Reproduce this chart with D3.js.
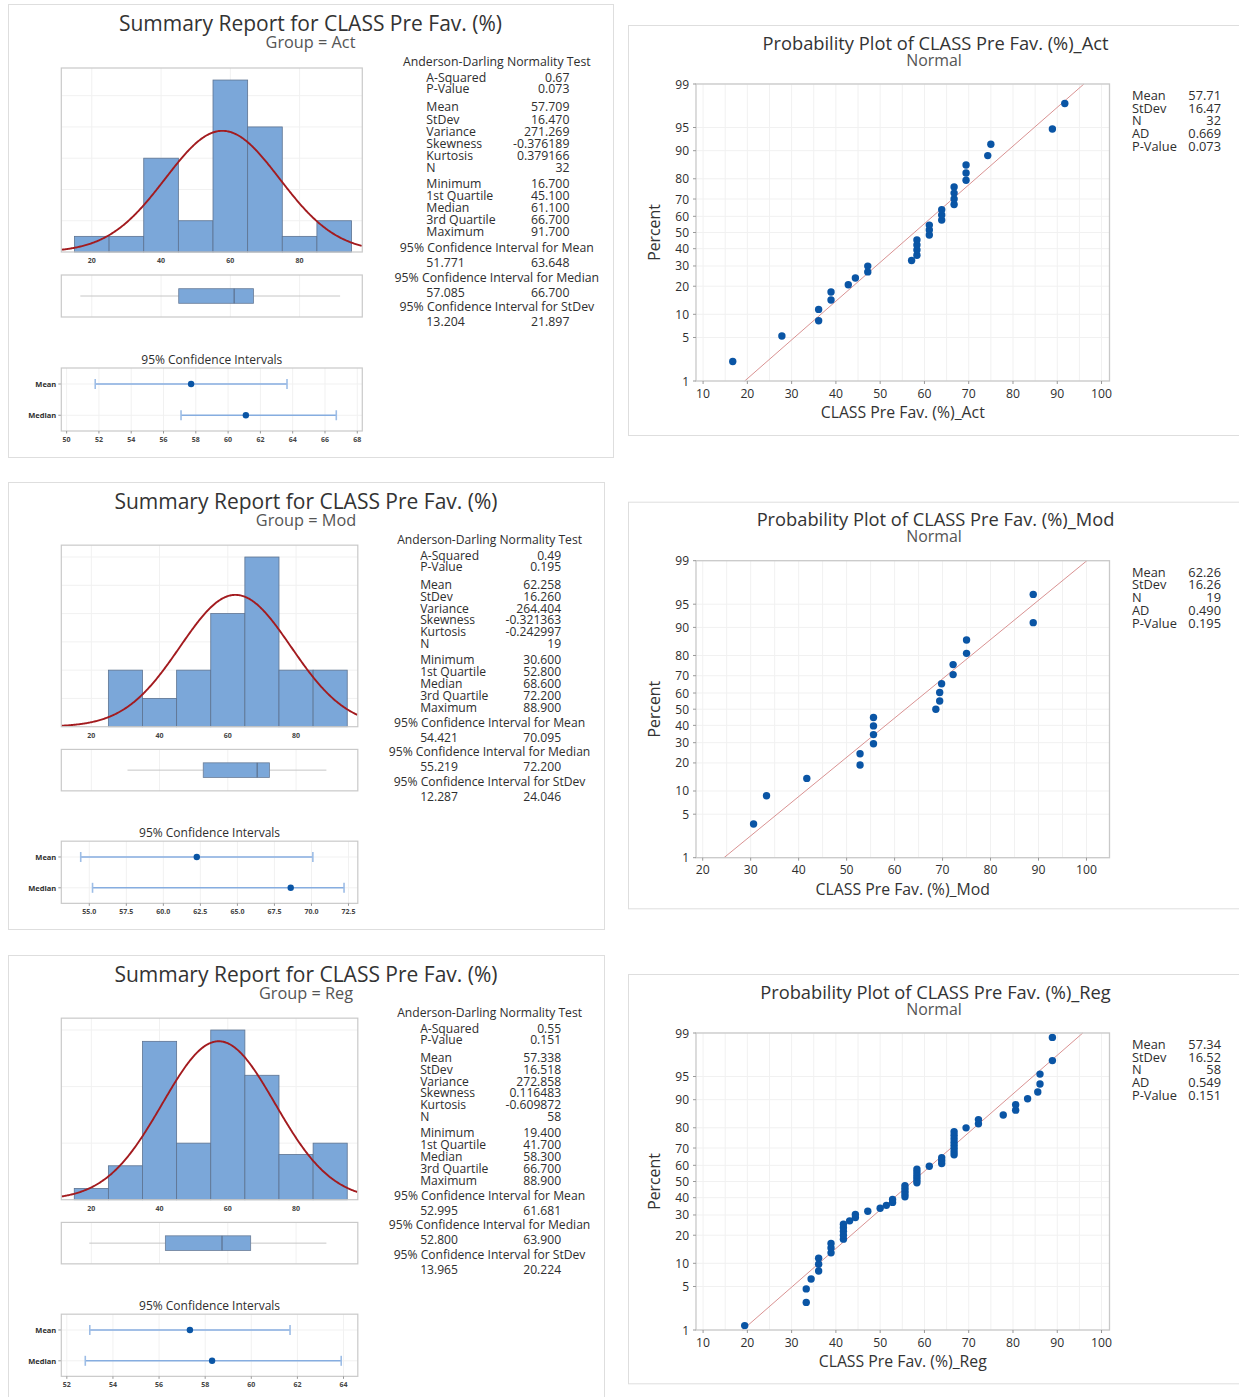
<!DOCTYPE html>
<html>
<head>
<meta charset="utf-8">
<script src="https://cdn.jsdelivr.net/npm/d3@7"></script>
<style>
  body { margin: 0; background: #fff; }
  svg { display: block; font-family: "Open Sans", "Noto Sans", sans-serif; }
</style>
</head>
<body>
<svg id="chart" width="1239" height="1397"></svg>
<script>
// ---------- data ----------
const groupNames = ["Act", "Mod", "Reg"];

const actScores = [16.7, 27.8, 36.1, 36.1, 38.9, 38.9, 42.8, 44.4, 47.2, 47.2, 57.1,
  58.3, 58.3, 58.3, 58.3, 61.1, 61.1, 61.1, 63.9, 63.9, 63.9, 66.7, 66.7, 66.7, 66.7,
  69.4, 69.4, 69.4, 74.3, 75.0, 88.9, 91.7];
const modScores = [30.6, 33.3, 41.7, 52.8, 52.8, 55.6, 55.6, 55.6, 55.6, 68.6, 69.4,
  69.4, 69.8, 72.2, 72.2, 75.0, 75.0, 88.9, 88.9];
const regScores = [19.4, 33.3, 33.3, 34.4, 36.1, 36.1, 36.1, 38.9, 38.9, 38.9,
  41.7, 41.7, 41.7, 41.7, 41.7, 43.1, 44.4, 44.4, 47.2, 50.0, 51.4, 52.8, 52.8,
  55.6, 55.6, 55.6, 55.6, 55.6, 58.3, 58.3, 58.3, 58.3, 58.3, 58.3, 61.1,
  63.9, 63.9, 63.9, 66.7, 66.7, 66.7, 66.7, 66.7, 66.7, 66.7, 66.7, 69.4,
  72.2, 72.2, 77.8, 80.6, 80.6, 83.3, 85.6, 86.1, 86.1, 88.9, 88.9];

// Anderson-Darling: [AD statistic, p-value]
const actADTest = [0.669, 0.073];
const modADTest = [0.490, 0.195];
const regADTest = [0.549, 0.151];

// Mean, StDev, Variance, Skewness, Kurtosis, N
const actMoments = [57.709, 16.470, 271.269, -0.376189, 0.379166, 32];
const modMoments = [62.258, 16.260, 264.404, -0.321363, -0.242997, 19];
const regMoments = [57.338, 16.518, 272.858, 0.116483, -0.609872, 58];

// Minimum, 1st Quartile, Median, 3rd Quartile, Maximum
const actQuantiles = [16.7, 45.1, 61.1, 66.7, 91.7];
const modQuantiles = [30.6, 52.8, 68.6, 72.2, 88.9];
const regQuantiles = [19.4, 41.7, 58.3, 66.7, 88.9];

// 95% confidence intervals
const actMeanCI = [51.771, 63.648], actMedianCI = [57.085, 66.700], actStDevCI = [13.204, 21.897];
const modMeanCI = [54.421, 70.095], modMedianCI = [55.219, 72.200], modStDevCI = [12.287, 24.046];
const regMeanCI = [52.995, 61.681], regMedianCI = [52.800, 63.900], regStDevCI = [13.965, 20.224];

// axis ranges and tick labels
const binEdges = [15, 25, 35, 45, 55, 65, 75, 85, 95];
const histRange = [11.2, 98.1];
const histTicks = [20, 40, 60, 80];
const actCiRange = [49.67, 68.31], actCiTicks = [50, 52, 54, 56, 58, 60, 62, 64, 66, 68];
const modCiRange = [53.11, 73.13], modCiTicks = [55, 57.5, 60, 62.5, 65, 67.5, 70, 72.5];
const regCiRange = [51.76, 64.62], regCiTicks = [52, 54, 56, 58, 60, 62, 64];
const actProbRange = [8.4, 101.8], actProbTicks = [10, 20, 30, 40, 50, 60, 70, 80, 90, 100];
const modProbRange = [18.6, 104.8], modProbTicks = [20, 30, 40, 50, 60, 70, 80, 90, 100];
const regProbRange = [8.4, 101.8], regProbTicks = [10, 20, 30, 40, 50, 60, 70, 80, 90, 100];
const percentTicks = [1, 5, 10, 20, 30, 40, 50, 60, 70, 80, 90, 95, 99];

// ---------- helpers ----------
function qnorm(p) {
  const a = [-3.969683028665376e+01, 2.209460984245205e+02, -2.759285104469687e+02, 1.383577518672690e+02, -3.066479806614716e+01, 2.506628277459239e+00];
  const b = [-5.447609879822406e+01, 1.615858368580409e+02, -1.556989798598866e+02, 6.680131188771972e+01, -1.328068155288572e+01];
  const c = [-7.784894002430293e-03, -3.223964580411365e-01, -2.400758277161838e+00, -2.549732539343734e+00, 4.374664141464968e+00, 2.938163982698783e+00];
  const d = [7.784695709041462e-03, 3.224671290700398e-01, 2.445134137142996e+00, 3.754408661907416e+00];
  const pl = 0.02425;
  let q, r;
  if (p < pl) {
    q = Math.sqrt(-2 * Math.log(p));
    return (((((c[0]*q+c[1])*q+c[2])*q+c[3])*q+c[4])*q+c[5]) / ((((d[0]*q+d[1])*q+d[2])*q+d[3])*q+1);
  }
  if (p > 1 - pl) {
    q = Math.sqrt(-2 * Math.log(1 - p));
    return -(((((c[0]*q+c[1])*q+c[2])*q+c[3])*q+c[4])*q+c[5]) / ((((d[0]*q+d[1])*q+d[2])*q+d[3])*q+1);
  }
  q = p - 0.5; r = q * q;
  return (((((a[0]*r+a[1])*r+a[2])*r+a[3])*r+a[4])*r+a[5])*q / (((((b[0]*r+b[1])*r+b[2])*r+b[3])*r+b[4])*r+1);
}
const dnorm = (x, m, s) => Math.exp(-0.5 * ((x - m) / s) ** 2) / (s * Math.sqrt(2 * Math.PI));

// number formatting with a plain hyphen-minus
const numLocale = d3.formatLocale({ decimal: ".", thousands: ",", grouping: [3], currency: ["", ""], minus: "-" });
const fmt = spec => numLocale.format(spec);

// baseline offset that vertically centres Open Sans text on a given y
const MID = 0.388;

// one <text> block made of positioned tspans: items = [{x, y, size, anchor, fill, text}]
function textBlock(parent, items, attrs = {}) {
  const t = parent.append("text");
  Object.entries(attrs).forEach(([k, v]) => t.attr(k, v));
  items.forEach(it => {
    const sp = t.append("tspan").attr("x", it.x).attr("y", it.y + MID * it.size)
      .attr("font-size", it.size).attr("text-anchor", it.anchor || "start").text(it.text);
    if (it.fill) sp.attr("fill", it.fill);
  });
  return t;
}

const groups = [
  { name: groupNames[0], scores: actScores, ad: actADTest, mom: actMoments, qs: actQuantiles,
    meanCI: actMeanCI, medCI: actMedianCI, sdCI: actStDevCI, ciRange: actCiRange, ciTicks: actCiTicks,
    probRange: actProbRange, probTicks: actProbTicks },
  { name: groupNames[1], scores: modScores, ad: modADTest, mom: modMoments, qs: modQuantiles,
    meanCI: modMeanCI, medCI: modMedianCI, sdCI: modStDevCI, ciRange: modCiRange, ciTicks: modCiTicks,
    probRange: modProbRange, probTicks: modProbTicks },
  { name: groupNames[2], scores: regScores, ad: regADTest, mom: regMoments, qs: regQuantiles,
    meanCI: regMeanCI, medCI: regMedianCI, sdCI: regStDevCI, ciRange: regCiRange, ciTicks: regCiTicks,
    probRange: regProbRange, probTicks: regProbTicks }
];

// panel placement
const summaryPanels = [
  { x: 8, y: 4, w: 605, h: 453, ts: 1 },
  { x: 8, y: 482, w: 596, h: 447, ts: 0.985 },
  { x: 8, y: 955, w: 596, h: 447, ts: 0.985 }
];
const probPanels = [
  { y: 25, h: 410 },
  { y: 501.7, h: 406.6 },
  { y: 974, h: 409.3 }
];

const svg = d3.select("#chart");
const BLUE = "#7ba7d9", DOT = "#0a55a5", FRAME = "#c9c9c9", GRID = "#f1f1f1", TXT = "#2e2e2e";

// ---------- summary report ----------
function drawSummary(P, G) {
  const s = svg.append("g").attr("transform", `translate(${P.x},${P.y})`);
  const k = P.h / 453;
  s.append("rect").attr("x", 0.5).attr("y", 0.5).attr("width", P.w).attr("height", P.h)
    .attr("fill", "#fff").attr("stroke", "#dedede");

  textBlock(s, [
    { x: P.w * 0.5, y: 19, size: 21, anchor: "middle", fill: "#333", text: "Summary Report for CLASS Pre Fav. (%)" },
    { x: P.w * 0.5, y: 37.5, size: 16.3, anchor: "middle", fill: "#555", text: `Group = ${G.name}` }
  ]);

  const fx0 = 53.3, fx1 = 53.3 + 0.4975 * P.w;
  const x = d3.scaleLinear().domain(histRange).range([fx0, fx1]);

  // histogram
  const hy0 = 64 * k, hy1 = 248 * k;
  const bins = d3.bin().domain([binEdges[0], binEdges[binEdges.length - 1]])
    .thresholds(binEdges.slice(1, -1))(G.scores);
  const maxCount = d3.max(bins, b => b.length);
  const y = d3.scaleLinear().domain([0, maxCount * 1.07]).range([hy1, hy0]);

  const hg = s.append("g");
  hg.selectAll("line.vg").data(histTicks).join("line")
    .attr("x1", d => x(d)).attr("x2", d => x(d)).attr("y1", hy0).attr("y2", hy1)
    .attr("stroke", GRID);
  hg.selectAll("line.hg").data(y.ticks(5).filter(t => t > 0)).join("line")
    .attr("x1", fx0).attr("x2", fx1).attr("y1", d => y(d)).attr("y2", d => y(d))
    .attr("stroke", GRID);
  hg.selectAll("rect.bar").data(bins.filter(b => b.length > 0)).join("rect")
    .attr("x", b => x(b.x0)).attr("width", b => x(b.x1) - x(b.x0))
    .attr("y", b => y(b.length)).attr("height", b => y(0) - y(b.length))
    .attr("fill", BLUE).attr("stroke", "#5d7391").attr("stroke-width", 0.8);

  const m = G.mom[0], sd = G.mom[1], n = G.mom[5];
  const bw = binEdges[1] - binEdges[0];
  const curvePts = d3.range(histRange[0], histRange[1] + 0.001, 0.25);
  hg.append("path").datum(curvePts)
    .attr("d", d3.line().x(v => x(v)).y(v => y(n * bw * dnorm(v, m, sd))))
    .attr("fill", "none").attr("stroke", "#a31b1f").attr("stroke-width", 1.9);
  hg.append("rect").attr("x", fx0).attr("y", hy0).attr("width", fx1 - fx0).attr("height", hy1 - hy0)
    .attr("fill", "none").attr("stroke", FRAME).attr("stroke-width", 1.2);
  hg.selectAll("text.xt").data(histTicks).join("text")
    .attr("x", d => x(d)).attr("y", hy1 + 8.5).attr("text-anchor", "middle")
    .attr("dominant-baseline", "central").attr("font-size", 7).attr("font-weight", "bold")
    .attr("fill", "#444").text(d => d);

  // boxplot
  const by0 = 271 * k, by1 = 313 * k, bc = (by0 + by1) / 2, bh = 7.3;
  const bg = s.append("g");
  bg.selectAll("line.vg").data(histTicks).join("line")
    .attr("x1", d => x(d)).attr("x2", d => x(d)).attr("y1", by0).attr("y2", by1).attr("stroke", GRID);
  const [qmin, q1, qmed, q3, qmax] = G.qs;
  bg.append("line").attr("x1", x(qmin)).attr("x2", x(q1)).attr("y1", bc).attr("y2", bc)
    .attr("stroke", "#c6c6c6");
  bg.append("line").attr("x1", x(q3)).attr("x2", x(qmax)).attr("y1", bc).attr("y2", bc)
    .attr("stroke", "#c6c6c6");
  bg.append("rect").attr("x", x(q1)).attr("width", x(q3) - x(q1)).attr("y", bc - bh).attr("height", 2 * bh)
    .attr("fill", BLUE).attr("stroke", "#6a7d98").attr("stroke-width", 0.8);
  bg.append("line").attr("x1", x(qmed)).attr("x2", x(qmed)).attr("y1", bc - bh).attr("y2", bc + bh)
    .attr("stroke", "#55657e").attr("stroke-width", 1);
  bg.append("rect").attr("x", fx0).attr("y", by0).attr("width", fx1 - fx0).attr("height", by1 - by0)
    .attr("fill", "none").attr("stroke", FRAME).attr("stroke-width", 1.2);

  // confidence intervals
  const cy0 = 364 * k, cy1 = 427 * k;
  const cx = d3.scaleLinear().domain(G.ciRange).range([fx0, fx1]);
  const cg = s.append("g");
  cg.append("text").attr("x", (fx0 + fx1) / 2).attr("y", 355 * k).attr("text-anchor", "middle")
    .attr("dominant-baseline", "central").attr("font-size", 12).attr("fill", TXT)
    .text("95% Confidence Intervals");
  cg.selectAll("line.vg").data(G.ciTicks).join("line")
    .attr("x1", d => cx(d)).attr("x2", d => cx(d)).attr("y1", cy0).attr("y2", cy1).attr("stroke", GRID);
  const rows = [
    { label: "Mean", ci: G.meanCI, est: G.mom[0], yy: cy0 + 0.254 * (cy1 - cy0) },
    { label: "Median", ci: G.medCI, est: G.qs[2], yy: cy0 + 0.75 * (cy1 - cy0) }
  ];
  rows.forEach(r => {
    cg.append("line").attr("x1", fx0).attr("x2", fx1).attr("y1", r.yy).attr("y2", r.yy).attr("stroke", GRID);
    cg.append("line").attr("x1", cx(r.ci[0])).attr("x2", cx(r.ci[1])).attr("y1", r.yy).attr("y2", r.yy)
      .attr("stroke", "#86ade0").attr("stroke-width", 1.6);
    r.ci.forEach(v => cg.append("line").attr("x1", cx(v)).attr("x2", cx(v))
      .attr("y1", r.yy - 5).attr("y2", r.yy + 5).attr("stroke", "#9dbde6").attr("stroke-width", 1.6));
    cg.append("circle").attr("cx", cx(r.est)).attr("cy", r.yy).attr("r", 3.2).attr("fill", DOT);
    cg.append("line").attr("x1", fx0 - 3).attr("x2", fx0).attr("y1", r.yy).attr("y2", r.yy).attr("stroke", "#999");
    cg.append("text").attr("x", fx0 - 5).attr("y", r.yy).attr("text-anchor", "end")
      .attr("dominant-baseline", "central").attr("font-size", 7.5).attr("font-weight", "bold")
      .attr("fill", TXT).text(r.label);
  });
  cg.append("rect").attr("x", fx0).attr("y", cy0).attr("width", fx1 - fx0).attr("height", cy1 - cy0)
    .attr("fill", "none").attr("stroke", FRAME).attr("stroke-width", 1.2);
  const ciFmt = G.ciTicks.some(t => t % 1 !== 0) ? fmt(".1f") : fmt("d");
  cg.selectAll("line.tk").data(G.ciTicks).join("line")
    .attr("x1", d => cx(d)).attr("x2", d => cx(d)).attr("y1", cy1).attr("y2", cy1 + 2.5).attr("stroke", "#999");
  cg.selectAll("text.xt").data(G.ciTicks).join("text")
    .attr("x", d => cx(d)).attr("y", cy1 + 8.5).attr("text-anchor", "middle")
    .attr("dominant-baseline", "central").attr("font-size", 7).attr("font-weight", "bold")
    .attr("fill", "#444").text(d => ciFmt(d));

  // statistics table
  const f = dec => fmt(`.${dec}f`);
  const lines = [
    { t: "c", a: "Anderson-Darling Normality Test", o: 0 },
    { t: "p", a: "A-Squared", b: f(2)(G.ad[0]), o: 15.6 },
    { t: "p", a: "P-Value", b: f(3)(G.ad[1]), o: 26.8 },
    { t: "p", a: "Mean", b: f(3)(G.mom[0]), o: 45 },
    { t: "p", a: "StDev", b: f(3)(G.mom[1]), o: 57.1 },
    { t: "p", a: "Variance", b: f(3)(G.mom[2]), o: 69.2 },
    { t: "p", a: "Skewness", b: f(6)(G.mom[3]), o: 81.3 },
    { t: "p", a: "Kurtosis", b: f(6)(G.mom[4]), o: 93.2 },
    { t: "p", a: "N", b: f(0)(G.mom[5]), o: 105.2 },
    { t: "p", a: "Minimum", b: f(3)(G.qs[0]), o: 121.6 },
    { t: "p", a: "1st Quartile", b: f(3)(G.qs[1]), o: 133.7 },
    { t: "p", a: "Median", b: f(3)(G.qs[2]), o: 145.8 },
    { t: "p", a: "3rd Quartile", b: f(3)(G.qs[3]), o: 157.9 },
    { t: "p", a: "Maximum", b: f(3)(G.qs[4]), o: 170 },
    { t: "c", a: "95% Confidence Interval for Mean", o: 185.6 },
    { t: "p", a: f(3)(G.meanCI[0]), b: f(3)(G.meanCI[1]), o: 200.7 },
    { t: "c", a: "95% Confidence Interval for Median", o: 215.3 },
    { t: "p", a: f(3)(G.medCI[0]), b: f(3)(G.medCI[1]), o: 230.3 },
    { t: "c", a: "95% Confidence Interval for StDev", o: 245 },
    { t: "p", a: f(3)(G.sdCI[0]), b: f(3)(G.sdCI[1]), o: 260 }
  ];
  const fs = 12.3 * P.ts;
  const cxT = 0.808 * P.w, lx = 0.6915 * P.w, rx = 0.928 * P.w, y0 = 57.7;
  const items = [];
  lines.forEach(L => {
    const yy = y0 + L.o * P.ts;
    if (L.t === "c") {
      items.push({ x: cxT, y: yy, size: fs, anchor: "middle", text: L.a });
    } else {
      items.push({ x: lx, y: yy, size: fs, anchor: "start", text: L.a });
      items.push({ x: rx, y: yy, size: fs, anchor: "end", text: L.b });
    }
  });
  textBlock(s, items, { fill: TXT });
}

// ---------- probability plot ----------
function drawProb(P, G) {
  const s = svg.append("g").attr("transform", `translate(0,${P.y})`);
  s.append("rect").attr("x", 628.5).attr("y", 0.5).attr("width", 640).attr("height", P.h)
    .attr("fill", "#fff").attr("stroke", "#dedede");
  textBlock(s, [
    { x: 935.5, y: 17.5, size: 18.3, anchor: "middle", fill: "#333", text: `Probability Plot of CLASS Pre Fav. (%)_${G.name}` },
    { x: 934, y: 34.5, size: 15.9, anchor: "middle", fill: "#555", text: "Normal" }
  ]);

  const fx0 = 696, fx1 = 1109.5, fy0 = 59, fy1 = 356;
  const x = d3.scaleLinear().domain(G.probRange).range([fx0, fx1]);
  const y = d3.scaleLinear().domain([qnorm(0.01), qnorm(0.99)]).range([fy1, fy0]);

  const minor = d3.range(Math.ceil(G.probRange[0] / 5) * 5, G.probRange[1], 5);
  s.selectAll("line.vg").data(minor).join("line")
    .attr("x1", d => x(d)).attr("x2", d => x(d)).attr("y1", fy0).attr("y2", fy1).attr("stroke", GRID);
  s.selectAll("line.hg").data(percentTicks).join("line")
    .attr("x1", fx0).attr("x2", fx1).attr("y1", d => y(qnorm(d / 100))).attr("y2", d => y(qnorm(d / 100)))
    .attr("stroke", GRID);

  const m = G.mom[0], sd = G.mom[1];
  const zLo = qnorm(0.01), zHi = qnorm(0.99);
  s.append("line").attr("x1", x(m + sd * zLo)).attr("y1", y(zLo)).attr("x2", x(m + sd * zHi)).attr("y2", y(zHi))
    .attr("stroke", "#d99292").attr("stroke-width", 1);

  const sorted = G.scores.slice().sort(d3.ascending);
  const nn = sorted.length;
  s.selectAll("circle").data(sorted).join("circle")
    .attr("cx", d => x(d)).attr("cy", (d, i) => y(qnorm((i + 1 - 0.3) / (nn + 0.4))))
    .attr("r", 3.7).attr("fill", DOT);

  s.append("rect").attr("x", fx0).attr("y", fy0).attr("width", fx1 - fx0).attr("height", fy1 - fy0)
    .attr("fill", "none").attr("stroke", FRAME).attr("stroke-width", 1.3);

  s.selectAll("line.xtk").data(G.probTicks).join("line")
    .attr("x1", d => x(d)).attr("x2", d => x(d)).attr("y1", fy1).attr("y2", fy1 + 3).attr("stroke", "#999");
  s.selectAll("text.xt").data(G.probTicks).join("text")
    .attr("x", d => x(d)).attr("y", fy1 + 12).attr("text-anchor", "middle")
    .attr("dominant-baseline", "central").attr("font-size", 12.2).attr("fill", TXT).text(d => d);
  s.selectAll("line.ytk").data(percentTicks).join("line")
    .attr("x1", fx0 - 3).attr("x2", fx0).attr("y1", d => y(qnorm(d / 100))).attr("y2", d => y(qnorm(d / 100)))
    .attr("stroke", "#999");
  s.selectAll("text.yt").data(percentTicks).join("text")
    .attr("x", fx0 - 7).attr("y", d => y(qnorm(d / 100))).attr("text-anchor", "end")
    .attr("dominant-baseline", "central").attr("font-size", 12).attr("fill", TXT).text(d => d);

  s.append("text").attr("x", (fx0 + fx1) / 2).attr("y", fy1 + 31).attr("text-anchor", "middle")
    .attr("dominant-baseline", "central").attr("font-size", 15.8).attr("fill", "#333")
    .text(`CLASS Pre Fav. (%)_${G.name}`);
  s.append("text").attr("transform", `translate(654,${(fy0 + fy1) / 2}) rotate(-90)`)
    .attr("text-anchor", "middle").attr("dominant-baseline", "central")
    .attr("font-size", 15.8).attr("fill", "#333").text("Percent");

  const legend = [
    ["Mean", fmt(".2f")(G.mom[0])],
    ["StDev", fmt(".2f")(G.mom[1])],
    ["N", fmt("d")(G.mom[5])],
    ["AD", fmt(".3f")(G.ad[0])],
    ["P-Value", fmt(".3f")(G.ad[1])]
  ];
  const items = [];
  legend.forEach((r, i) => {
    const yy = 70 + i * 12.75;
    items.push({ x: 1132, y: yy, size: 12.8, anchor: "start", text: r[0] });
    items.push({ x: 1221, y: yy, size: 12.8, anchor: "end", text: r[1] });
  });
  textBlock(s, items, { fill: TXT });
}

groups.forEach((G, i) => {
  drawSummary(summaryPanels[i], G);
  drawProb(probPanels[i], G);
});
</script>
</body>
</html>
